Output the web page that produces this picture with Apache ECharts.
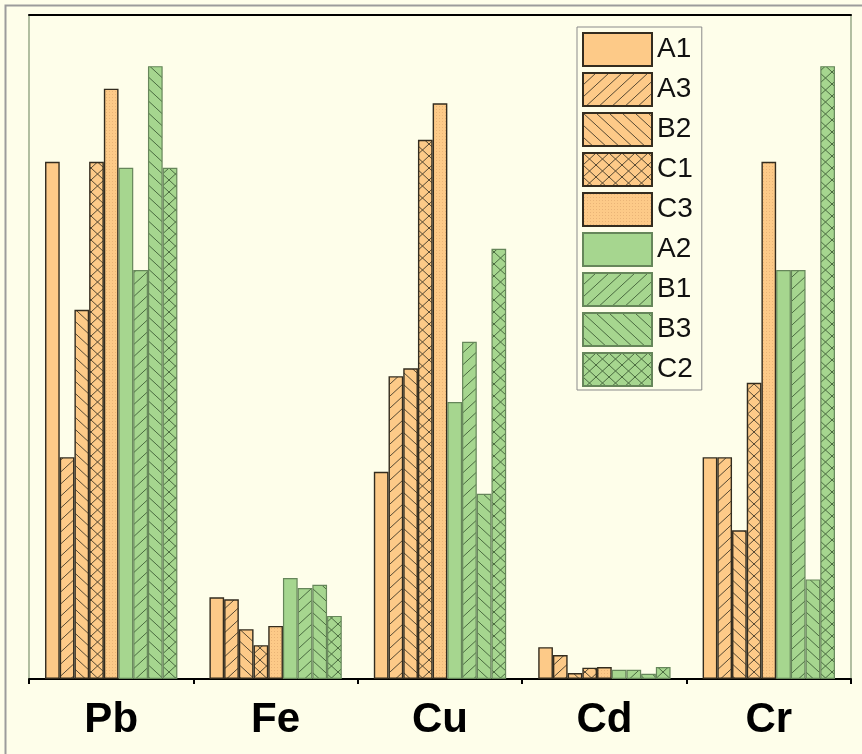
<!DOCTYPE html>
<html>
<head>
<meta charset="utf-8">
<script src="https://cdn.jsdelivr.net/npm/echarts@6/dist/echarts.min.js"></script>
<style>
html,body{margin:0;padding:0;background:#FEFEEA;}
#chart{width:862px;height:754px;}
</style>
</head>
<body>
<div id="chart"></div>
<script>
// ---- data ----
const categories = ['Pb', 'Fe', 'Cu', 'Cd', 'Cr'];
const seriesNames = ['A1', 'A3', 'B2', 'C1', 'C3', 'A2', 'B1', 'B3', 'C2'];
const A1 = [77.9, 12.3, 31.2, 4.8, 33.4];
const A3 = [33.4, 12.0, 45.6, 3.6, 33.4];
const B2 = [55.6, 7.5, 46.8, 0.9, 22.4];
const C1 = [77.9, 5.1, 81.2, 1.7, 44.6];
const C3 = [88.9, 8.0, 86.7, 1.8, 77.9];
const A2 = [77.0, 15.2, 41.7, 1.4, 61.6];
const B1 = [61.6, 13.7, 50.8, 1.4, 61.6];
const B3 = [92.3, 14.2, 27.9, 0.8, 15.0];
const C2 = [77.0, 9.5, 64.8, 1.8, 92.3];
const seriesValues = [A1, A3, B2, C1, C3, A2, B1, B3, C2];

// ---- styles ----
const ORANGE = '#FDCA88', GREEN = '#A6D68F';
const ORANGE_LINE = '#554832', GREEN_LINE = '#4a6a40';
const ORANGE_BORDER = '#332c1f', GREEN_BORDER = '#66865a';

function makePattern(fill, lineColor, kind) {
  const w = kind === 'dots' ? 3 : 13, h = kind === 'dots' ? 3 : 12;
  const c = document.createElement('canvas');
  c.width = w; c.height = h;
  const g = c.getContext('2d');
  g.fillStyle = fill; g.fillRect(0, 0, w, h);
  if (kind === 'dots') {
    g.fillStyle = '#eab477';
    g.fillRect(1, 1, 1, 1);
    return c;
  }
  g.strokeStyle = lineColor; g.lineWidth = 1;
  const fwd = () => {
    for (const dx of [-w, 0, w]) {
      g.beginPath(); g.moveTo(dx, h); g.lineTo(dx + w, 0); g.stroke();
    }
  };
  const back = () => {
    for (const dx of [-w, 0, w]) {
      g.beginPath(); g.moveTo(dx, 0); g.lineTo(dx + w, h); g.stroke();
    }
  };
  if (kind === 'fwd' || kind === 'cross') fwd();
  if (kind === 'back' || kind === 'cross') back();
  return c;
}

const kinds = ['plain', 'fwd', 'back', 'cross', 'dots', 'plain', 'fwd', 'back', 'cross'];

const series = seriesNames.map((name, i) => {
  const isOrange = i < 5;
  const fill = isOrange ? ORANGE : GREEN;
  const lc = isOrange ? ORANGE_LINE : GREEN_LINE;
  const color = kinds[i] === 'plain' ? fill :
    { image: makePattern(fill, lc, kinds[i]), repeat: 'repeat' };
  return {
    name: name,
    type: 'bar',
    xAxisIndex: 0,
    yAxisIndex: 0,
    data: seriesValues[i],
    barGap: '0%',
    barCategoryGap: '19.5%',
    itemStyle: {
      color: color,
      borderColor: isOrange ? ORANGE_BORDER : GREEN_BORDER,
      borderWidth: isOrange ? 1.4 : 1.2
    },
    emphasis: { disabled: true }
  };
});

const chart = echarts.init(document.getElementById('chart'));
chart.setOption({
  backgroundColor: '#FEFEEA',
  animation: false,
  graphic: [{
    type: 'rect',
    shape: { x: 5.5, y: 5.5, width: 1000, height: 1000 },
    style: { fill: 'none', stroke: '#9c9c9c', lineWidth: 2 },
    silent: true, z: -1
  }],
  grid: {
    left: 29, right: 11, top: 15, bottom: 75,
    show: true, borderColor: '#7f9470', borderWidth: 1.2,
    backgroundColor: 'transparent'
  },
  legend: {
    orient: 'vertical',
    left: 577, top: 27,
    itemWidth: 69, itemHeight: 33, itemGap: 5,
    padding: [5, 9, 3, 5],
    borderColor: '#8a8a8a', borderWidth: 1,
    icon: 'rect',
    selectedMode: false,
    textStyle: { fontSize: 28, color: '#111', fontFamily: 'Liberation Sans, Arial, sans-serif' },
    data: seriesNames
  },
  xAxis: [{
    type: 'category',
    data: categories,
    position: 'bottom',
    axisLine: { lineStyle: { color: '#000', width: 2 } },
    axisTick: { alignWithLabel: true, length: 13, lineStyle: { color: '#000', width: 2 } },
    axisLabel: { fontSize: 42, fontWeight: 'bold', color: '#000', margin: 20,
      fontFamily: 'Liberation Sans, Arial, sans-serif' }
  }, {
    type: 'category',
    data: categories,
    position: 'bottom',
    axisLine: { show: false },
    axisTick: { show: true, length: 5, lineStyle: { color: '#000', width: 2 } },
    axisLabel: { show: false }
  }, {
    type: 'category',
    data: categories,
    position: 'top',
    axisLine: { onZero: false, lineStyle: { color: '#000', width: 2 } },
    axisTick: { show: false },
    axisLabel: { show: false }
  }],
  yAxis: {
    type: 'value', min: 0, max: 100, show: false
  },
  series: series
});
</script>
</body>
</html>
